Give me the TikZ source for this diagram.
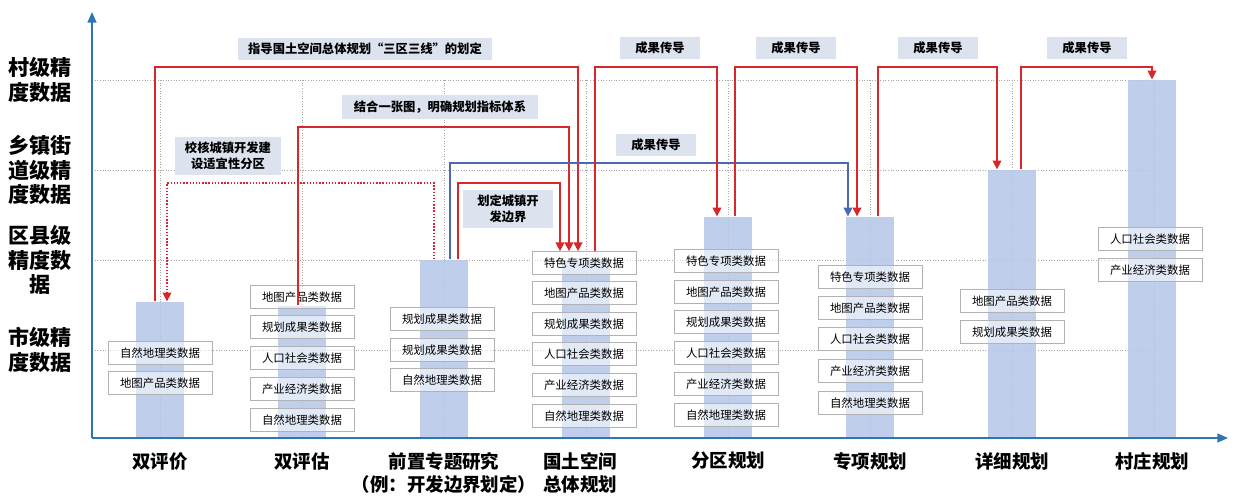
\documentclass[tikz,border=0pt]{standalone}
\usepackage{fontspec}
\setmainfont{Noto Sans CJK SC}
\usetikzlibrary{positioning}
\usetikzlibrary{arrows.meta}
\usetikzlibrary{calc}
\definecolor{barblue}{HTML}{B4C7E7}
\definecolor{labfill}{HTML}{DCE3EF}
\definecolor{axisblue}{HTML}{2E75B6}
\definecolor{linkred}{HTML}{D9262B}
\definecolor{linkblue}{HTML}{4C68B0}

\begin{document}
\begin{tikzpicture}[
  x=0.02cm, y=-0.02cm,
  font=\bfseries,
  bar/.style={fill=barblue, fill opacity=0.85, inner sep=0pt, minimum width=0.96cm, anchor=south},
  databox/.style={draw=gray!60, fill=white, fill opacity=0.55, text opacity=1, font=\fontsize{6.5}{7}\selectfont,
    minimum width=2.08cm, minimum height=0.46cm, inner sep=0pt},
  tag/.style={fill=labfill, font=\fontsize{7}{9}\selectfont\bfseries, align=center, inner sep=3pt},
  cat/.style={font=\fontsize{10.5}{13}\selectfont\bfseries, align=center, anchor=north},
  lvl/.style={font=\fontsize{12}{14}\selectfont\bfseries, align=center},
  grid/.style={gray!70, densely dotted, line width=0.5pt},
  link/.style={linkred, line width=0.8pt, -{Triangle[length=5pt,width=5pt]}},
  bluelink/.style={linkblue, line width=0.8pt, -{Triangle[length=5pt,width=5pt]}}
]
\useasboundingbox (0,0) rectangle (1235,500);

% --- grid and axes ---
\foreach \gy in {80,170,260,350} \draw[grid] (92,\gy) -- (1150,\gy);
\foreach \gx in {160,302,444,586,728,870,1012,1154} \draw[grid] (\gx,80) -- (\gx,438);
\node[lvl] (L1) at (40,80) {村级精\\度数据};
\node[lvl] (L2) at (40,170) {乡镇街\\道级精\\度数据};
\node[lvl] (L3) at (40,260) {区县级\\精度数\\据};
\node[lvl] (L4) at (40,350) {市级精\\度数据};

% --- bars ---
\node[bar, minimum height=2.72cm] (B1) at (160,438) {};
\node[bar, minimum height=2.64cm] (B2) at (302,438) {};
\node[bar, minimum height=3.56cm] (B3) at (444,438) {};
\node[bar, minimum height=3.56cm] (B4) at (586,438) {};
\node[bar, minimum height=4.42cm] (B5) at (728,438) {};
\node[bar, minimum height=4.42cm] (B6) at (870,438) {};
\node[bar, minimum height=5.36cm] (B7) at (1012,438) {};
\node[bar, minimum height=7.16cm] (B8) at (1152,438) {};

\coordinate (O) at (92,438);
\coordinate (YT) at (92,12);
\coordinate (XR) at (1228,438);
\draw[axisblue, line width=1pt, -{Triangle[length=6pt,width=5pt]}] (O) -- (YT);
\draw[axisblue, line width=1pt, -{Triangle[length=6pt,width=5pt]}] (O) -- (XR);

% --- data boxes ---
\node[databox] (D11) at (160,353) {自然地理类数据};
\node[databox] (D12) at (160,383) {地图产品类数据};

\node[databox] (D21) at (302,297) {地图产品类数据};
\node[databox] (D22) at (302,327) {规划成果类数据};
\node[databox] (D23) at (302,358) {人口社会类数据};
\node[databox] (D24) at (302,389) {产业经济类数据};
\node[databox] (D25) at (302,420) {自然地理类数据};

\node[databox] (D31) at (442,319) {规划成果类数据};
\node[databox] (D32) at (442,350) {规划成果类数据};
\node[databox] (D33) at (442,380) {自然地理类数据};

\node[databox] (D41) at (584,263) {特色专项类数据};
\node[databox] (D42) at (584,293) {地图产品类数据};
\node[databox] (D43) at (584,324) {规划成果类数据};
\node[databox] (D44) at (584,354) {人口社会类数据};
\node[databox] (D45) at (584,385) {产业经济类数据};
\node[databox] (D46) at (584,416) {自然地理类数据};

\node[databox] (D51) at (726,261) {特色专项类数据};
\node[databox] (D52) at (726,292) {地图产品类数据};
\node[databox] (D53) at (726,322) {规划成果类数据};
\node[databox] (D54) at (726,353) {人口社会类数据};
\node[databox] (D55) at (726,384) {产业经济类数据};
\node[databox] (D56) at (726,415) {自然地理类数据};

\node[databox] (D61) at (870,277) {特色专项类数据};
\node[databox] (D62) at (870,308) {地图产品类数据};
\node[databox] (D63) at (870,339) {人口社会类数据};
\node[databox] (D64) at (870,371) {产业经济类数据};
\node[databox] (D65) at (870,403) {自然地理类数据};

\node[databox] (D71) at (1012,301) {地图产品类数据};
\node[databox] (D72) at (1012,332) {规划成果类数据};

\node[databox] (D81) at (1150,239) {人口社会类数据};
\node[databox] (D82) at (1150,270) {产业经济类数据};

% --- category labels ---
\node[cat] (C1) at (160,446) {双评价};
\node[cat] (C2) at (302,446) {双评估};
\node[cat] (C3) at (444,446) {前置专题研究\\（例：开发边界划定）};
\node[cat] (C4) at (580,446) {国土空间\\总体规划};
\node[cat] (C5) at (728,446) {分区规划};
\node[cat] (C6) at (870,446) {专项规划};
\node[cat] (C7) at (1012,446) {详细规划};
\node[cat] (C8) at (1152,446) {村庄规划};

% --- tags ---
\node[tag, minimum width=5.08cm] (T1) at (365,49) {指导国土空间总体规划“三区三线”的划定};
\node[tag, minimum width=3.92cm] (T2) at (440,107) {结合一张图，明确规划指标体系};
\node[tag, minimum width=2.14cm] (T3) at (228,156) {校核城镇开发建\\设适宜性分区};
\node[tag, minimum width=1.8cm] (T4) at (508,209) {划定城镇开\\发边界};
\node[tag, minimum width=1.6cm] (T5) at (656,145) {成果传导};
\node[tag, minimum width=1.6cm] (T6) at (660,48) {成果传导};
\node[tag, minimum width=1.6cm] (T7) at (796,48) {成果传导};
\node[tag, minimum width=1.6cm] (T8) at (938,48) {成果传导};
\node[tag, minimum width=1.6cm] (T9) at (1087,48) {成果传导};

% --- links ---
\draw[link] ($(B1.north)+(-5,0)$) -- (155,67) -| ($(D41.north)+(-6,0)$);
\draw[link] ($(B2.north)+(-4,0)$) -- (298,127) -| ($(D41.north)+(-15,0)$);
\draw[link] ($(B3.north)+(14,0)$) -- (458,183) -| ($(D41.north)+(-24,0)$);
\draw[link, densely dotted] ($(B3.north)+(-10,0)$) -- (434,183) -| ($(B1.north)+(7,0)$);
\draw[bluelink] ($(B3.north)+(6,0)$) -- (450,163) -| ($(B6.north)+(-22,0)$);
\draw[link] ($(D41.north)+(11,0)$) -- (595,67) -| ($(B5.north)+(-11,0)$);
\draw[link] ($(B5.north)+(7,0)$) -- (735,67) -| ($(B6.north)+(-13,0)$);
\draw[link] ($(B6.north)+(8,0)$) -- (878,67) -| ($(B7.north)+(-15,0)$);
\draw[link] ($(B7.north)+(9,0)$) -- (1021,67) -| ($(B8.north)+(0,0)$);

\end{tikzpicture}
\end{document}
